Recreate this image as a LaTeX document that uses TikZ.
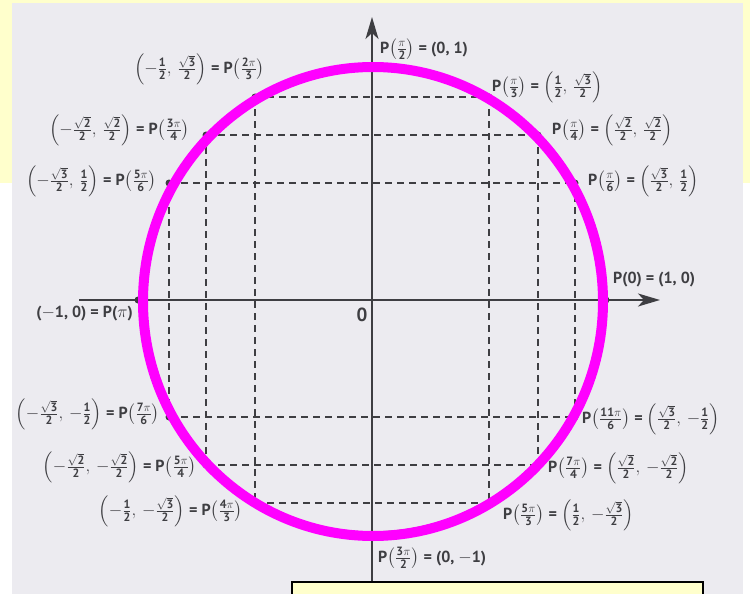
\documentclass[tikz,border=0pt]{standalone}
\usepackage{amsmath}
\usepackage{fontspec}
\setmainfont{PT Sans}
\usetikzlibrary{arrows.meta}
\DeclareMathSizes{16}{16}{12}{9}
\definecolor{paper}{RGB}{236,235,240}
\definecolor{pale}{RGB}{255,255,204}
\definecolor{ink}{RGB}{62,62,66}
\definecolor{mag}{RGB}{255,0,255}
\newcommand{\fr}[2]{\tfrac{\text{#1}}{\text{#2}}}
\newcommand{\fs}[2]{\tfrac{\sqrt{\text{#1}}}{\text{#2}}}
\newcommand{\fp}[2]{\tfrac{\text{#1}\pi}{\text{#2}}}
\newcommand{\bp}[1]{\ensuremath{\left(#1\right)}}
\newcommand{\mn}{\ensuremath{-}}
\begin{document}
\begin{tikzpicture}[x=1pt,y=-1pt,
  lbl/.style={text=ink, font=\fontsize{16}{18}\selectfont\bfseries, inner sep=0pt},
  gridline/.style={ink, line width=2pt, dash pattern=on 7pt off 5pt},
  axis/.style={ink, line width=2pt, -{Stealth[length=22pt,width=13pt,inset=6pt]}},
  dot/.style={circle, fill=ink, inner sep=0pt, minimum size=7pt}]
\useasboundingbox (0,0) rectangle (750,594);
\fill[white] (0,0) rectangle (750,594);
\fill[pale] (0,0) rectangle (750,183);
\fill[paper] (12,3) rectangle (743,594);
\coordinate (o) at (372,300);
\coordinate (p0) at (606,300);
\coordinate (p30) at (575,183);
\coordinate (p45) at (538,135);
\coordinate (p60) at (489,97);
\coordinate (p90) at (372,66);
\coordinate (p120) at (255,97);
\coordinate (p135) at (206,135);
\coordinate (p150) at (169,183);
\coordinate (p180) at (138,300);
\coordinate (p210) at (169,417);
\coordinate (p225) at (206,465);
\coordinate (p240) at (255,503);
\coordinate (p270) at (372,534);
\coordinate (p300) at (489,503);
\coordinate (p315) at (538,465);
\coordinate (p330) at (575,417);
% dashed grid
\draw[gridline] (p120) -- (p60);
\draw[gridline] (p135) -- (p45);
\draw[gridline] (p150) -- (p30);
\draw[gridline] (p210) -- (p330);
\draw[gridline] (p225) -- (p315);
\draw[gridline] (p240) -- (p300);
\draw[gridline] (p120) -- (p240);
\draw[gridline] (p135) -- (p225);
\draw[gridline] (p150) -- (p210);
\draw[gridline] (p60) -- (p300);
\draw[gridline] (p45) -- (p315);
\draw[gridline] (p30) -- (p330);
% printed circle
\draw[ink, line width=1.2pt] (o) circle [radius=232pt];
% axes
\coordinate (xl) at (79,300);
\coordinate (xr) at (660,300);
\coordinate (yb) at (372,594);
\coordinate (yt) at (372,17);
\draw[axis] (xl) -- (xr);
\draw[axis] (yb) -- (yt);
% dots
\foreach \a in {0,30,45,60,90,120,135,150,180,210,225,240,270,300,315,330}
  \node[dot] (d\a) at (p\a) {};
% magenta circle
\coordinate (mc) at (373,301.5);
\draw[mag, line width=10pt] (mc) ellipse [x radius=230pt, y radius=234.5pt];
% labels
\node[lbl, anchor=west] (l90) at (380,49) {P\bp{\fp{}{2}} = (0, 1)};
\node[lbl, anchor=west] (l60) at (492,87) {P\bp{\fp{}{3}} = \bp{\fr12,\,\fs32}};
\node[lbl, anchor=west] (l45) at (552,130) {P\bp{\fp{}{4}} = \bp{\fs22,\,\fs22}};
\node[lbl, anchor=west] (l30) at (588,181) {P\bp{\fp{}{6}} = \bp{\fs32,\,\fr12}};
\node[lbl, anchor=west] (l0) at (613,280) {P(0) = (1, 0)};
\node[lbl, anchor=east] (l120) at (265,69) {\bp{\mn\fr12,\,\fs32} = P\bp{\fp{2}{3}}};
\node[lbl, anchor=east] (l135) at (190,130) {\bp{\mn\fs22,\,\fs22} = P\bp{\fp{3}{4}}};
\node[lbl, anchor=east] (l150) at (157,181) {\bp{\mn\fs32,\,\fr12} = P\bp{\fp{5}{6}}};
\node[lbl, anchor=east] (l180) at (133,314) {(\mn1, 0) = P(\ensuremath{\pi})};
\node[lbl, anchor=east] (l210) at (160,414) {\bp{\mn\fs32,\,\mn\fr12} = P\bp{\fp{7}{6}}};
\node[lbl, anchor=east] (l225) at (197,467) {\bp{\mn\fs22,\,\mn\fs22} = P\bp{\fp{5}{4}}};
\node[lbl, anchor=east] (l240) at (243,511) {\bp{\mn\fr12,\,\mn\fs32} = P\bp{\fp{4}{3}}};
\node[lbl, anchor=west] (l330) at (582,419) {P\bp{\fp{11}{6}} = \bp{\fs32,\,\mn\fr12}};
\node[lbl, anchor=west] (l315) at (548,468) {P\bp{\fp{7}{4}} = \bp{\fs22,\,\mn\fs22}};
\node[lbl, anchor=west] (l300) at (503,515) {P\bp{\fp{5}{3}} = \bp{\fr12,\,\mn\fs32}};
\node[lbl, anchor=west] (l270) at (378,558) {P\bp{\fp{3}{2}} = (0, \mn1)};
\node[lbl, font=\fontsize{19}{21}\selectfont\bfseries] (zero) at (362,315) {0};
% bottom box
\draw[black, line width=1.5pt, fill=pale] (292,582) rectangle (703,600);
\end{tikzpicture}
\end{document}
